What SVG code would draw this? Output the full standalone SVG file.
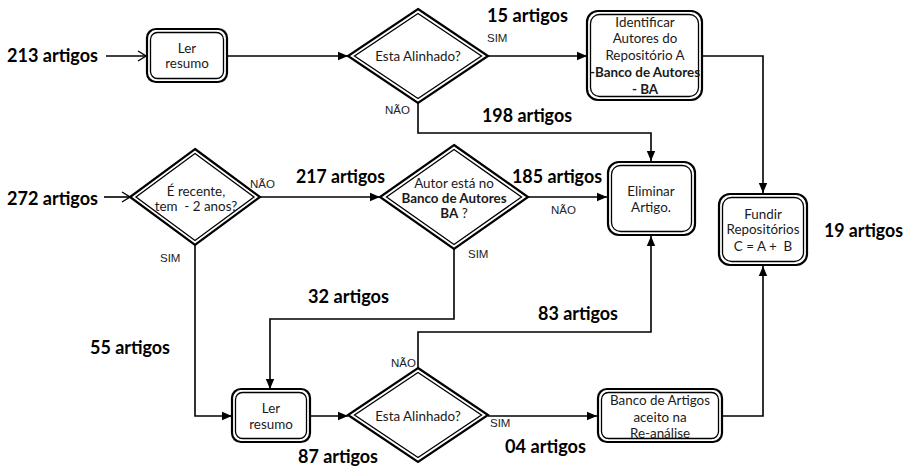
<svg xmlns="http://www.w3.org/2000/svg" width="909" height="468" viewBox="0 0 909 468">
<style>
.o{fill:#fff;stroke:#000;stroke-width:2.2}
.i{fill:none;stroke:#000;stroke-width:1.3}
.t{font-family:Lato,"Open Sans",sans-serif;font-size:13.4px;fill:#1a1a1a;text-anchor:middle;white-space:pre}
.b{font-weight:bold}
.c{font-family:Lato,"Open Sans",sans-serif;font-size:18.5px;font-weight:bold;fill:#000}
.s{font-family:"Liberation Sans",Arial,sans-serif;font-size:11.5px;fill:#222}
.ln{fill:none;stroke:#000;stroke-width:1.6}
</style>
<defs>
<marker id="f" markerUnits="userSpaceOnUse" markerWidth="10" markerHeight="10" viewBox="0 0 10 10" refX="10" refY="5" orient="auto"><path d="M0,0.8 L10,5 L0,9.2 z" fill="#000"/></marker>
<marker id="op" markerUnits="userSpaceOnUse" markerWidth="12" markerHeight="12" viewBox="0 0 12 12" refX="11" refY="6" orient="auto"><path d="M3,1 L11,6 L3,11" fill="none" stroke="#000" stroke-width="1.4"/></marker>
</defs>

<g id="connectors">
<path class="ln" d="M106,56 H146" marker-end="url(#op)"/>
<path class="ln" d="M227,56 H348" marker-end="url(#f)"/>
<path class="ln" d="M488,56 H587" marker-end="url(#f)"/>
<path class="ln" d="M418,103 V133 H651 V161" marker-end="url(#f)"/>
<path class="ln" d="M702,56 H763 V193" marker-end="url(#f)"/>
<path class="ln" d="M104,197 H130" marker-end="url(#op)"/>
<path class="ln" d="M260,197 H380" marker-end="url(#f)"/>
<path class="ln" d="M528,197 H607" marker-end="url(#f)"/>
<path class="ln" d="M454,249 V319 H270 V389" marker-end="url(#f)"/>
<path class="ln" d="M195,245 V416 H232" marker-end="url(#f)"/>
<path class="ln" d="M310,416 H348" marker-end="url(#f)"/>
<path class="ln" d="M418,368 V332 H651 V236" marker-end="url(#f)"/>
<path class="ln" d="M488,416 H597" marker-end="url(#f)"/>
<path class="ln" d="M722,416 H763 V266" marker-end="url(#f)"/>
</g>

<g id="ler1">
<rect class="o" x="147" y="29" width="80" height="53" rx="9"/>
<rect class="i" x="150.5" y="32.5" width="73" height="46" rx="7"/>
<text class="t" x="187" y="53">Ler</text>
<text class="t" x="187" y="68">resumo</text>
</g>

<g id="d1">
<polygon class="o" points="418,9 488,56 418,103 348,56"/>
<polygon class="i" points="418,13.5 481.5,56 418,98.5 354.5,56"/>
<text class="t" x="418" y="61">Esta Alinhado?</text>
</g>

<g id="identificar">
<rect class="o" x="587" y="11" width="115" height="89" rx="11"/>
<rect class="i" x="590.5" y="14.5" width="108" height="82" rx="9"/>
<text class="t" x="645" y="27">Identificar</text>
<text class="t" x="645" y="43">Autores do</text>
<text class="t" x="645" y="60">Repositório A</text>
<text class="t b" x="645" y="77">-Banco de Autores</text>
<text class="t b" x="645" y="94">- BA</text>
</g>

<g id="eliminar">
<rect class="o" x="608" y="162" width="87" height="73" rx="11"/>
<rect class="i" x="611.5" y="165.5" width="80" height="66" rx="9"/>
<text class="t" x="651" y="196">Eliminar</text>
<text class="t" x="651" y="212">Artigo.</text>
</g>

<g id="fundir">
<rect class="o" x="719" y="194" width="88" height="71" rx="11"/>
<rect class="i" x="722.5" y="197.5" width="81" height="64" rx="9"/>
<text class="t" x="763" y="219">Fundir</text>
<text class="t" x="763" y="234">Repositórios</text>
<text class="t" x="763" y="251">C = A +  B</text>
</g>

<g id="d2">
<polygon class="o" points="195,149 260,197 195,245 130,197"/>
<polygon class="i" points="195,153.5 254,197 195,240.5 136,197"/>
<text class="t" x="196" y="196">É recente,</text>
<text class="t" x="196" y="211">tem  - 2 anos?</text>
</g>

<g id="d3">
<polygon class="o" points="454,145 528,197 454,249 380,197"/>
<polygon class="i" points="454,149.5 521.5,197 454,244.5 386.5,197"/>
<text class="t" x="454" y="188">Autor está no</text>
<text class="t b" x="454" y="203">Banco de Autores</text>
<text class="t" x="454" y="218"><tspan class="b">BA</tspan> ?</text>
</g>

<g id="ler2">
<rect class="o" x="232" y="389" width="78" height="53" rx="9"/>
<rect class="i" x="235.5" y="392.5" width="71" height="46" rx="7"/>
<text class="t" x="271" y="413">Ler</text>
<text class="t" x="271" y="429">resumo</text>
</g>

<g id="d4">
<polygon class="o" points="418,368 488,415 418,462 348,415"/>
<polygon class="i" points="418,372.5 481.5,415 418,457.5 354.5,415"/>
<text class="t" x="418" y="421">Esta Alinhado?</text>
</g>

<g id="banco">
<rect class="o" x="598" y="389" width="124" height="53" rx="9"/>
<rect class="i" x="601.5" y="392.5" width="117" height="46" rx="7"/>
<text class="t" x="660" y="405">Banco de Artigos</text>
<text class="t" x="660" y="422">aceito na</text>
<text class="t" x="660" y="438">Re-análise</text>
</g>

<g id="labels">
<text class="c" x="7" y="62" textLength="91" lengthAdjust="spacingAndGlyphs">213 artigos</text>
<text class="c" x="487" y="22" textLength="81" lengthAdjust="spacingAndGlyphs">15 artigos</text>
<text class="c" x="482" y="122" textLength="90" lengthAdjust="spacingAndGlyphs">198 artigos</text>
<text class="c" x="7" y="205" textLength="91" lengthAdjust="spacingAndGlyphs">272 artigos</text>
<text class="c" x="296" y="183" textLength="89" lengthAdjust="spacingAndGlyphs">217 artigos</text>
<text class="c" x="512" y="183" textLength="90" lengthAdjust="spacingAndGlyphs">185 artigos</text>
<text class="c" x="824" y="237" textLength="79" lengthAdjust="spacingAndGlyphs">19 artigos</text>
<text class="c" x="308" y="303" textLength="81" lengthAdjust="spacingAndGlyphs">32 artigos</text>
<text class="c" x="538" y="320" textLength="80" lengthAdjust="spacingAndGlyphs">83 artigos</text>
<text class="c" x="90" y="354" textLength="80" lengthAdjust="spacingAndGlyphs">55 artigos</text>
<text class="c" x="505" y="453" textLength="81" lengthAdjust="spacingAndGlyphs">04 artigos</text>
<text class="c" x="298" y="463" textLength="80" lengthAdjust="spacingAndGlyphs">87 artigos</text>
<text class="s" x="487" y="42">SIM</text>
<text class="s" x="385" y="114">NÃO</text>
<text class="s" x="250" y="188">NÃO</text>
<text class="s" x="551" y="214">NÃO</text>
<text class="s" x="468" y="258">SIM</text>
<text class="s" x="160" y="262">SIM</text>
<text class="s" x="391" y="367">NÃO</text>
<text class="s" x="490" y="427">SIM</text>
</g>
</svg>
